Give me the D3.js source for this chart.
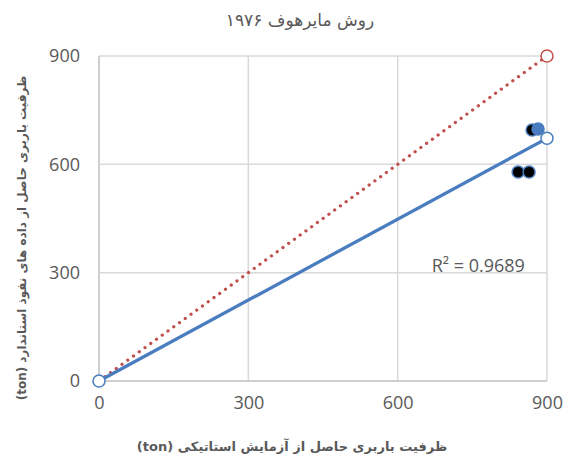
<!DOCTYPE html>
<html>
<head>
<meta charset="utf-8">
<script src="https://cdn.jsdelivr.net/npm/d3@7"></script>
<style>
  body { margin: 0; background: #fff; }
  text { font-family: "DejaVu Sans", "Noto Sans", sans-serif; fill: #595959; }
</style>
</head>
<body>
<div id="chart"></div>
<script>
// tick values for both axes
const ticks = [0, 300, 600, 900];

// measured points (static test vs. SPT estimate)
const measuredX = [842, 864, 870];
const measuredY = [579, 579, 695];
const highlightX = [882];
const highlightY = [698];

// 1:1 reference line and fitted trend line
const refX = [0, 900];
const refY = [0, 900];
const trendX = [0, 900];
const trendY = [0, 672];

const titleText = "روش مایرهوف ۱۹۷۶";
const xTitle = "ظرفیت باربری حاصل از آزمایش استاتیکی (ton)";
const yTitle = "ظرفیت باربری حاصل از داده های نفوذ استاندارد (ton)";
const r2Text = "R² = 0.9689";

const width = 568, height = 464;
const margin = {top: 56, right: 21, bottom: 83, left: 99};
const w = width - margin.left - margin.right;
const h = height - margin.top - margin.bottom;

const svg = d3.select("#chart").append("svg")
  .attr("width", width)
  .attr("height", height);

const x = d3.scaleLinear().domain([0, 900]).range([0, w]);
const y = d3.scaleLinear().domain([0, 900]).range([h, 0]);

const g = svg.append("g")
  .attr("transform", `translate(${margin.left},${margin.top})`);

// grid
g.selectAll(".gx").data(ticks).enter().append("line")
  .attr("x1", d => x(d)).attr("x2", d => x(d))
  .attr("y1", 0).attr("y2", h)
  .attr("stroke", d => d === 0 ? "#bfbfbf" : "#d9d9d9")
  .attr("stroke-width", 1.5);
g.selectAll(".gy").data(ticks).enter().append("line")
  .attr("y1", d => y(d)).attr("y2", d => y(d))
  .attr("x1", 0).attr("x2", w)
  .attr("stroke", d => d === 0 ? "#bfbfbf" : "#d9d9d9")
  .attr("stroke-width", 1.5);

// axes labels via d3 axes
const xAxis = g.append("g")
  .attr("transform", `translate(0,${h})`)
  .call(d3.axisBottom(x).tickValues(ticks).tickSize(0).tickPadding(15));
const yAxis = g.append("g")
  .call(d3.axisLeft(y).tickValues(ticks).tickSize(0).tickPadding(19));
[xAxis, yAxis].forEach(a => {
  a.select(".domain").remove();
  a.selectAll("text")
    .style("font-family", "'Open Sans', 'DejaVu Sans', sans-serif")
    .style("font-size", "18px")
    .attr("fill", "#595959");
});

const line = d3.line().x(d => x(d[0])).y(d => y(d[1]));

// 1:1 dotted line
const refPts = refX.map((v, i) => [v, refY[i]]);
g.append("path")
  .attr("d", line(refPts))
  .attr("fill", "none")
  .attr("stroke", "#c0504d")
  .attr("stroke-width", 3.2)
  .attr("stroke-dasharray", "0.1 7")
  .attr("stroke-linecap", "round");

// trend line
const trendPts = trendX.map((v, i) => [v, trendY[i]]);
g.append("path")
  .attr("d", line(trendPts))
  .attr("fill", "none")
  .attr("stroke", "#4a7dbf")
  .attr("stroke-width", 3.3);

// measured points
const meas = measuredX.map((v, i) => [v, measuredY[i]]);
g.selectAll(".pt").data(meas).enter().append("circle")
  .attr("cx", d => x(d[0])).attr("cy", d => y(d[1]))
  .attr("r", 6)
  .attr("fill", "#000")
  .attr("stroke", "#4a7dbf")
  .attr("stroke-width", 1.5);

const hl = highlightX.map((v, i) => [v, highlightY[i]]);
g.selectAll(".hl").data(hl).enter().append("circle")
  .attr("cx", d => x(d[0])).attr("cy", d => y(d[1]))
  .attr("r", 6)
  .attr("fill", "#4a7dbf")
  .attr("stroke", "#4a7dbf")
  .attr("stroke-width", 1.5);

// open markers on end points
g.selectAll(".tm").data(trendPts).enter().append("circle")
  .attr("cx", d => x(d[0])).attr("cy", d => y(d[1]))
  .attr("r", 6)
  .attr("fill", "#fff")
  .attr("stroke", "#4a7dbf")
  .attr("stroke-width", 1.5);
g.append("circle")
  .attr("cx", x(refPts[1][0])).attr("cy", y(refPts[1][1]))
  .attr("r", 6)
  .attr("fill", "#fff")
  .attr("stroke", "#c0504d")
  .attr("stroke-width", 1.5);

// R² label
g.append("text")
  .attr("x", x(762)).attr("y", y(300) - 1)
  .attr("text-anchor", "middle")
  .style("font-family", "'Open Sans', 'DejaVu Sans', sans-serif")
  .style("font-size", "18px")
  .text(r2Text);

// titles
svg.append("text")
  .attr("x", 300).attr("y", 26)
  .attr("text-anchor", "middle")
  .attr("direction", "rtl")
  .style("font-size", "17px")
  .text(titleText);

svg.append("text")
  .attr("x", 292).attr("y", 451)
  .attr("text-anchor", "middle")
  .attr("direction", "rtl")
  .style("font-size", "13px")
  .style("font-weight", "bold")
  .text(xTitle);

svg.append("text")
  .attr("transform", "translate(26,238) rotate(-90)")
  .attr("text-anchor", "middle")
  .attr("direction", "rtl")
  .style("font-size", "12px")
  .style("font-weight", "bold")
  .text(yTitle);
</script>
</body>
</html>
